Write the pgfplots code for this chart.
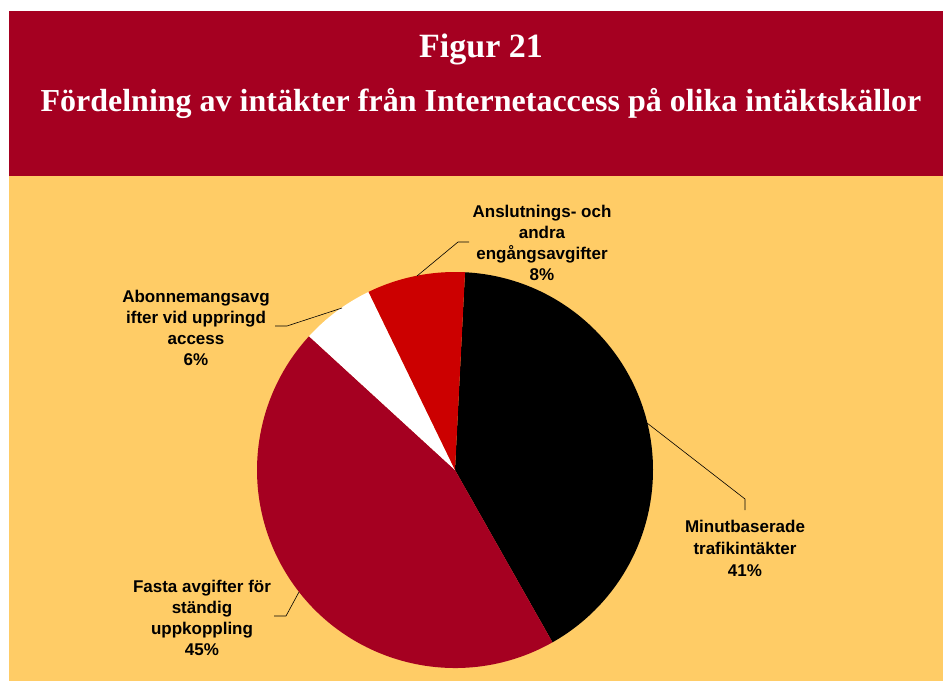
\documentclass[border=0pt]{standalone}
\usepackage{pgfplots}
\usepackage{pgfplotstable}
\pgfplotsset{compat=1.18}
\usepackage{fontspec}
\setmainfont{Liberation Serif}
\newfontfamily\lab{Liberation Sans}
\definecolor{banner}{HTML}{A50021}
\definecolor{bgy}{HTML}{FFCC66}
\definecolor{darkred}{HTML}{A50021}
\definecolor{brred}{HTML}{CC0000}
\pgfplotstableread{
name value
Minut 41
Fasta 45
Abonnemang 6
Anslutning 8
}\piedata
\begin{document}
\begin{tikzpicture}[x=1pt,y=1pt]
\useasboundingbox (0,0) rectangle (943,681);
\fill[white] (0,0) rectangle (943,681);
\fill[bgy] (9,0) rectangle (943,505);
\fill[banner] (9,505) rectangle (943,670);
\node[text=white,font=\fontsize{34}{38}\selectfont\bfseries] at (481,632) {Figur 21};
\node[text=white,font=\fontsize{32}{36}\selectfont\bfseries] at (481,578) {Fördelning av intäkter från Internetaccess på olika intäktskällor};
\begin{axis}[x=198pt,y=198pt,xmin=-1.2,xmax=1.2,ymin=-1.2,ymax=1.2,
  hide axis,clip=false,at={(455pt,211pt)},anchor=center]
\foreach \i/\col in {0/black,1/darkred,2/white,3/brred}{
  \pgfplotstablegetelem{\i}{value}\of\piedata
  \ifcase\i
    \pgfmathsetmacro{\a}{87.1}\or
    \pgfmathsetmacro{\a}{87.1-3.6*41}\or
    \pgfmathsetmacro{\a}{87.1-3.6*86}\or
    \pgfmathsetmacro{\a}{87.1-3.6*92}\fi
  \pgfmathsetmacro{\b}{\a-3.6*\pgfplotsretval}
  \edef\temp{\noexpand\fill[\col] (axis cs:0,0) -- (axis cs:{cos(\a)},{sin(\a)}) arc[start angle=\a,end angle=\b,radius=1] -- cycle;}
  \temp
}
\end{axis}
% leader lines
\draw[black,line width=0.6pt] (647,258) -- (745,182) -- (745,171);
\draw[black,line width=0.6pt] (417,405) -- (458,439) -- (469,439);
\draw[black,line width=0.6pt] (342,373) -- (287,355) -- (275,355);
\draw[black,line width=0.6pt] (299,89) -- (286,65) -- (274,65);
% labels
\begin{scope}[every node/.style={font=\lab\fontsize{17}{21}\selectfont\bfseries,align=center}]
\node at (542,438) {Anslutnings- och\\andra\\engångsavgifter\\8\%};
\node at (196,353) {Abonnemangsavg\\ifter vid uppringd\\access\\6\%};
\node[font=\lab\fontsize{17}{22}\selectfont\bfseries] at (745,133) {Minutbaserade\\trafikintäkter\\41\%};
\node at (202,63) {Fasta avgifter för\\ständig\\uppkoppling\\45\%};
\end{scope}
\end{tikzpicture}
\end{document}
